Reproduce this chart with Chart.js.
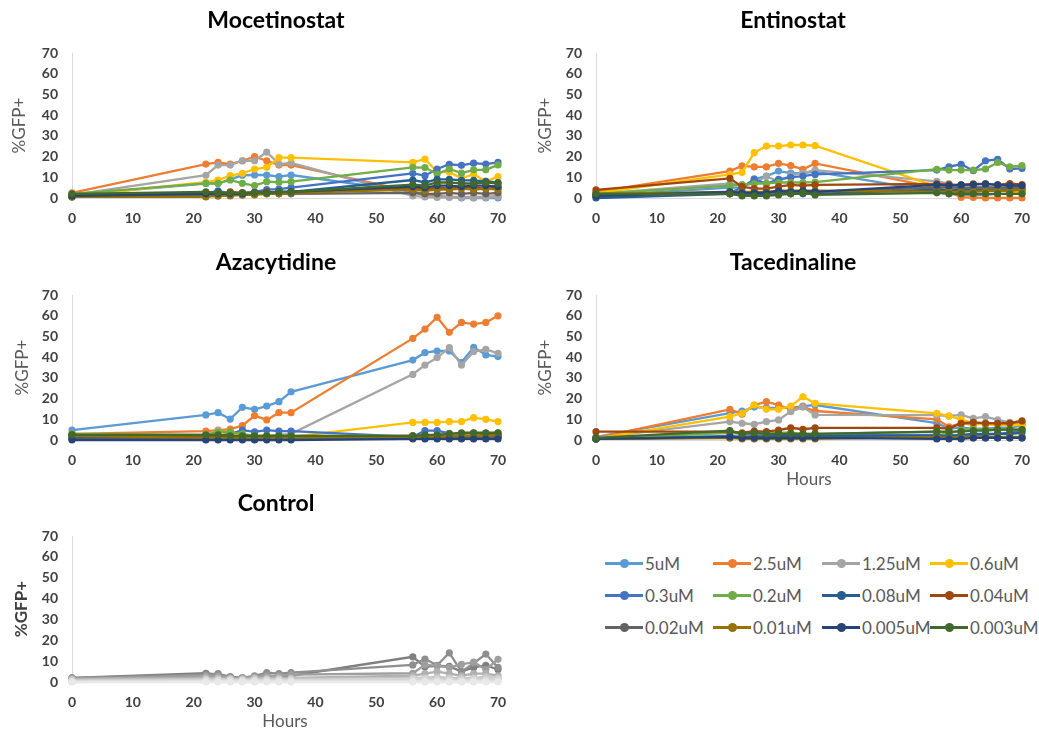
<!DOCTYPE html>
<html>
<head>
<meta charset="utf-8">
<script src="https://cdn.jsdelivr.net/npm/chart.js@4.4.1/dist/chart.umd.min.js"></script>
<style>
html,body{margin:0;padding:0;background:#fff;overflow:hidden;width:1039px;height:736px;}
canvas{position:absolute;}
.item{position:absolute;height:18px;display:flex;align-items:center;font-family:Lato,'Open Sans',sans-serif;font-size:17px;color:#595959;white-space:nowrap;}
.sw{position:relative;width:38px;height:3px;margin-right:2px;flex:none;}
.sw i{position:absolute;left:15px;top:-3px;width:9px;height:9px;border-radius:50%;}
</style>
</head>
<body>
<canvas id="c1" width="552" height="228" style="left:0px;top:0px"></canvas>
<canvas id="c2" width="538" height="228" style="left:524px;top:0px"></canvas>
<canvas id="c3" width="552" height="228" style="left:0px;top:242px"></canvas>
<canvas id="c4" width="538" height="248" style="left:524px;top:242px"></canvas>
<canvas id="c5" width="552" height="249" style="left:0px;top:483px"></canvas>
<div id="legend"></div>
<script>
// ---------- data ----------
const hours = [0,22,24,26,28,30,32,34,36,56,58,60,62,64,66,68,70];
const xTickValues = [0,10,20,30,40,50,60,70];
const yTickValues = [0,10,20,30,40,50,60,70];
const panelTitles = ['Mocetinostat','Entinostat','Azacytidine','Tacedinaline','Control'];
const doses = ['5uM','2.5uM','1.25uM','0.6uM','0.3uM','0.2uM','0.08uM','0.04uM','0.02uM','0.01uM','0.005uM','0.003uM'];
const doseColors = ['#5B9BD5','#ED7D31','#A5A5A5','#FFC000','#4472C4','#70AD47','#255E91','#9E480E','#636363','#997300','#264478','#43682B'];

// %GFP+ per dose (rows follow `doses`), columns follow `hours`
const mocetinostat = [
  [1.5, 7, 7, 9, 11, 11.1, 11.1, 10.3, 11.1, 3, 2, 1, 0.5, 0, 0, 0, 0],
  [2.5, 16.4, 17.2, 16.4, 18, 20, 18, 15.9, 15.9, 3, 1, 0.5, 0.5, 0.5, 0.5, 0.5, 1],
  [1.5, 11, 15.9, 15.9, 18, 18, 22.2, 16.4, 16.9, 1, 0.5, 0.3, 0.3, 0.3, 0.3, 0.3, 0.5],
  [1, 7.6, 8.7, 10.8, 11.9, 14, 14.8, 19.5, 19.5, 17.2, 18.8, 12.5, 12.5, 9.5, 11.5, 8, 10.3],
  [1, 2, 3.5, 2, 2.5, 3, 4, 4.3, 5, 11.9, 10.8, 14, 16.3, 15.8, 16.8, 16.4, 17.2],
  [2, 7.1, 7.1, 8.7, 7.1, 6, 7.9, 7.6, 7.9, 14.8, 14.7, 11.6, 14, 12, 13.6, 13.6, 16],
  [1, 2.5, 3, 2, 2, 2, 2.5, 3, 3, 8.7, 7.5, 9, 9, 8.5, 8.5, 8, 7.5],
  [0.5, 1.5, 2, 3, 2.5, 2.5, 3, 2.5, 3, 5, 4, 5, 4.5, 5, 5, 4.5, 5],
  [0.5, 1, 1, 1.5, 1.5, 2, 2, 2, 2, 2.5, 2, 2, 2.5, 2, 2.5, 2, 2.5],
  [0.5, 0.5, 1, 1, 1.5, 1.5, 2, 2, 2.5, 4, 3.5, 4, 4, 4.5, 4, 4.5, 4],
  [1, 2, 2, 2, 2, 2.5, 2.5, 3, 3, 5.5, 5, 6, 6, 5.5, 6, 6, 5.5],
  [2, 3, 2.5, 2.5, 2.5, 2.5, 2.5, 3, 3, 6.5, 6, 7.5, 7.5, 7, 7, 7.5, 7]
];
const entinostat = [
  [1, 5, 5, 9.2, 10.6, 13, 12, 12, 12.7, 3, 2, 1.5, 1.5, 1.5, 2, 2, 2],
  [3, 13, 15.5, 15, 15, 16.7, 15.6, 13.9, 16.7, 5, 3, 0.3, 0.3, 0, 0, 0, 0],
  [2, 7, 6, 7, 10.5, 8, 11, 12, 13.5, 8, 7, 5, 5, 5.5, 5, 5, 5],
  [2.3, 11.4, 12.4, 21.9, 25.1, 25.1, 25.6, 25.6, 25.3, 5.5, 5, 4, 3.5, 3.5, 4, 3, 3],
  [1, 2.5, 5, 9, 7, 9, 10, 10.6, 11.4, 13.5, 15.1, 16.3, 13.2, 18, 18.7, 14, 14.3],
  [2, 6, 6.5, 7, 7, 7.5, 7.5, 7.5, 7.7, 13.9, 13.5, 13.5, 13.5, 14, 17.2, 15.1, 15.6],
  [0, 2, 2, 1.5, 1.5, 2, 2, 2, 2, 4, 3.5, 4, 4, 4, 4, 4, 4],
  [3.9, 9.5, 5.5, 4.5, 4.5, 5.5, 6.3, 6, 6.3, 6.8, 6.5, 6.3, 6.8, 6.8, 6.3, 7, 6.5],
  [1.5, 2, 2, 2.5, 2.5, 3, 3, 3, 3, 5, 5, 5, 5, 5, 5, 5, 5],
  [2, 3, 3, 3, 3, 3.5, 3.5, 3.5, 3.5, 3, 3, 3, 3, 3.5, 3.5, 3.5, 4],
  [1, 3, 2.5, 2.5, 2.5, 3.5, 3, 3.5, 3, 6.3, 6, 6.3, 6.5, 6.8, 6.3, 6, 6],
  [2, 2, 1, 1, 1, 1.5, 2, 2.5, 1.5, 2.5, 2, 2, 2, 2, 2, 2, 2]
];
const azacytidine = [
  [4.8, 12.1, 13.2, 10.1, 15.8, 14.8, 16.4, 18.5, 23.3, 38.6, 42.2, 43, 43, 37.4, 44.8, 41.1, 40.3],
  [3, 4.3, 4.8, 5.3, 6.9, 11.8, 9.7, 13.2, 13.2, 49.1, 53.6, 59.3, 52, 56.8, 56, 56.8, 60],
  [2, 2.5, 4.5, 3, 2, 2, 2, 2.5, 3, 31.7, 36.2, 39.8, 44.6, 36.2, 42.7, 43.8, 41.9],
  [2, 2.5, 4, 3, 2, 1.5, 1.5, 1.5, 1.5, 8.5, 8.5, 8.5, 8.9, 8.9, 10.8, 10, 8.9],
  [1, 2, 2, 3, 4.8, 3.9, 4.8, 4.3, 4.3, 1.5, 4.5, 4.5, 3.2, 2, 2, 2, 2],
  [3, 2.5, 3.9, 3.9, 3, 2, 2, 2, 2, 2, 2, 2.5, 3, 3, 3.5, 3, 3.5],
  [1, 1, 1, 1, 1, 1, 1, 1, 1, 1, 1, 1, 1, 1, 1.5, 1.5, 1.5],
  [2.5, 1.5, 1.5, 1.5, 1.5, 1.5, 1.5, 1.5, 1.5, 2, 1.5, 2, 1.5, 2, 2, 2.5, 2.5],
  [0.5, 0.5, 0.5, 0.5, 0.5, 0.5, 0.5, 0.5, 0.5, 1, 1, 1, 1.5, 1.5, 1.5, 1.5, 1.5],
  [2, 1, 1, 1, 1, 1, 1, 1, 1, 1.5, 1.5, 1.5, 1.5, 2, 2, 2, 2.5],
  [0, 0, 0, 0, 0, 0, 0, 0, 0, 0.5, 0.5, 0.5, 0.5, 0.5, 0.5, 0.5, 0.5],
  [2.5, 2.5, 2.5, 2, 2, 2, 2, 2, 2, 2, 2.5, 2.5, 3, 3.5, 3.5, 3.5, 3.5]
];
const tacedinaline = [
  [1.5, 13, 14, 15.9, 15.5, 15.5, 15.5, 16.4, 16.9, 8.1, 5.5, 6, 5.5, 5.5, 6, 6, 7],
  [1, 14.8, 12.5, 16.9, 18.5, 16.9, 14.8, 16.1, 14, 10, 6.4, 8.1, 7.5, 8, 7.5, 7.5, 8],
  [1, 8.9, 8.1, 7.6, 8.9, 9.7, 13.7, 15.9, 12.1, 12, 11.6, 12.1, 10.5, 11.3, 9.7, 8.5, 8.9],
  [0.5, 11.3, 12.9, 16.9, 14.8, 14.8, 16.4, 20.9, 17.7, 12.9, 11.6, 10, 8.1, 7.5, 7.5, 7, 7.5],
  [0.5, 2, 1.5, 2, 2, 2, 3, 2.5, 2.5, 2.5, 2, 2.5, 2, 2.5, 3, 3.5, 5],
  [0.5, 3.5, 3, 3, 3, 3.5, 3.5, 3, 3, 4, 3, 5, 5, 5, 5, 5, 5],
  [0.5, 1.5, 1.5, 1.5, 1.5, 2, 2, 2, 2, 2, 2, 2.5, 3, 3, 3, 3, 3.5],
  [4, 4, 3.5, 4.3, 4, 4.8, 5.9, 5.2, 5.9, 5.9, 5.5, 8.1, 8.5, 8.1, 8.1, 8.1, 9.2],
  [0.5, 1, 1, 1, 1, 1, 1, 1, 1, 1, 1, 1, 1, 1, 1, 1, 1],
  [0.5, 1, 0.5, 0.5, 0.5, 0.5, 0.5, 0.5, 0.5, 1.5, 1, 1.5, 1.5, 1.5, 1.5, 1.5, 1.5],
  [0.5, 1.5, 1, 1, 1, 1, 1, 1, 1, 0.5, 0.5, 0.5, 1, 1, 1, 1, 1],
  [1, 4.5, 3, 3.5, 3, 3, 3, 3, 3, 4, 4, 4, 4.5, 4.5, 5, 5, 5]
];
const controlColors = ['#7F7F7F','#8E8E8E','#9E9E9E','#B0B0B0','#C4C4C4','#D3D3D3','#DEDEDE','#E8E8E8'];
const control = [
  [2, 4.2, 3.5, 2.5, 2, 2.5, 3, 2.5, 3, 12.1, 7.3, 7.8, 7.5, 5, 7, 8, 6],
  [2, 3.5, 4, 2.5, 2, 3, 4.5, 4, 4.5, 8.2, 11, 8, 14, 5, 9, 13.4, 7],
  [1.5, 3, 3, 2, 2, 2.5, 3, 3, 3.5, 4.2, 8.2, 7.8, 7, 8.5, 9.5, 6, 10.9],
  [1.5, 2, 2, 1.5, 1.5, 2, 2, 2, 2, 3, 4, 5, 4, 3, 4, 4, 3],
  [1, 1.5, 1.5, 1.5, 1, 1.5, 1.5, 1.5, 1.5, 2, 2, 2.5, 2, 2, 2, 2.5, 2],
  [0.5, 1, 1, 1, 1, 1, 1, 1, 1, 1.5, 1.5, 1.5, 1.5, 1, 1.5, 1.5, 1.5],
  [0, 0.5, 0.5, 0.5, 0.5, 0.5, 0.5, 0.5, 0.5, 0.5, 0.5, 0.5, 0.5, 0.5, 0.5, 0.5, 0.5],
  [0, 0, 0, 0, 0, 0, 0, 0, 0, 0, 0, 0, 0, 0, 0, 0, 0]
];

// ---------- drawing ----------
Chart.defaults.font.family = "Lato, 'Open Sans', sans-serif";

function buildDatasets(series, labels, colors) {
  const n = series.length;
  return series.map((vals, i) => ({
    label: labels[i],
    data: hours.map((h, k) => ({x: h, y: vals[k]})),
    borderColor: colors[i],
    backgroundColor: colors[i],
    pointBackgroundColor: colors[i],
    pointBorderColor: colors[i],
    pointBorderWidth: 0,
    pointRadius: 3.6,
    borderWidth: 2.3,
    tension: 0,
    clip: false,
    order: n - 1 - i
  }));
}

function makePanel(id, title, datasets, o) {
  new Chart(document.getElementById(id), {
    type: 'line',
    data: {datasets},
    options: {
      responsive: false,
      animation: false,
      events: [],
      layout: {padding: 0},
      plugins: {
        legend: {display: false},
        tooltip: {enabled: false},
        title: {
          display: true, text: title, color: '#000000',
          font: {size: 23, weight: 'bold'},
          padding: {top: 6.5, bottom: 19}
        }
      },
      scales: {
        x: {
          type: 'linear', min: 0, max: 70,
          afterBuildTicks: s => { s.ticks = xTickValues.map(v => ({value: v})); },
          afterFit: s => { s.height = o.hours ? 50 : 30; },
          grid: {display: false, drawTicks: false},
          border: {display: true, color: '#D9D9D9', width: 1},
          ticks: {color: '#404040', font: {size: 14, weight: 'bold'}, padding: 12, maxRotation: 0, autoSkip: false},
          title: {display: !!o.hours, text: 'Hours', color: '#595959', font: {size: 17, weight: 'normal'}, padding: {top: 0, bottom: 0}}
        },
        y: {
          type: 'linear', min: 0, max: 70, position: 'left',
          afterBuildTicks: s => { s.ticks = yTickValues.map(v => ({value: v})); },
          afterFit: s => { s.width = 72; },
          grid: {display: false, drawTicks: false},
          border: {display: true, color: '#D9D9D9', width: 1},
          ticks: {color: '#404040', font: {size: 14, weight: 'bold'}, padding: 14},
          title: {display: true, text: '%GFP+', color: o.boldY ? '#404040' : '#595959',
                  font: {size: 17, weight: o.boldY ? 'bold' : 'normal'}, padding: {top: o.yTitlePad, bottom: 0}}
        },
        spacer: {
          type: 'linear', position: 'right', display: true, min: 0, max: 70,
          afterFit: s => { s.width = o.rightSpace; },
          grid: {display: false, drawTicks: false},
          border: {display: false},
          ticks: {display: false}
        }
      }
    }
  });
}

makePanel('c1', panelTitles[0], buildDatasets(mocetinostat, doses, doseColors), {rightSpace: 54, yTitlePad: 9});
makePanel('c2', panelTitles[1], buildDatasets(entinostat, doses, doseColors), {rightSpace: 40, yTitlePad: 11});
makePanel('c3', panelTitles[2], buildDatasets(azacytidine, doses, doseColors), {rightSpace: 54, yTitlePad: 12});
makePanel('c4', panelTitles[3], buildDatasets(tacedinaline, doses, doseColors), {rightSpace: 40, yTitlePad: 11, hours: true});
makePanel('c5', panelTitles[4], buildDatasets(control, control.map((_, i) => 'Control ' + (i + 1)), controlColors), {rightSpace: 54, yTitlePad: 11, hours: true, boldY: true});

// ---------- legend ----------
const legendCols = [605, 713, 822, 930];
const legendRows = [563, 595, 627];
const lg = document.getElementById('legend');
doses.forEach((d, i) => {
  const el = document.createElement('div');
  el.className = 'item';
  el.style.left = legendCols[i % 4] + 'px';
  el.style.top = (legendRows[Math.floor(i / 4)] - 9) + 'px';
  el.innerHTML = '<span class="sw" style="background:' + doseColors[i] + '"><i style="background:' + doseColors[i] + '"></i></span>' + d;
  lg.appendChild(el);
});
</script>
</body>
</html>
